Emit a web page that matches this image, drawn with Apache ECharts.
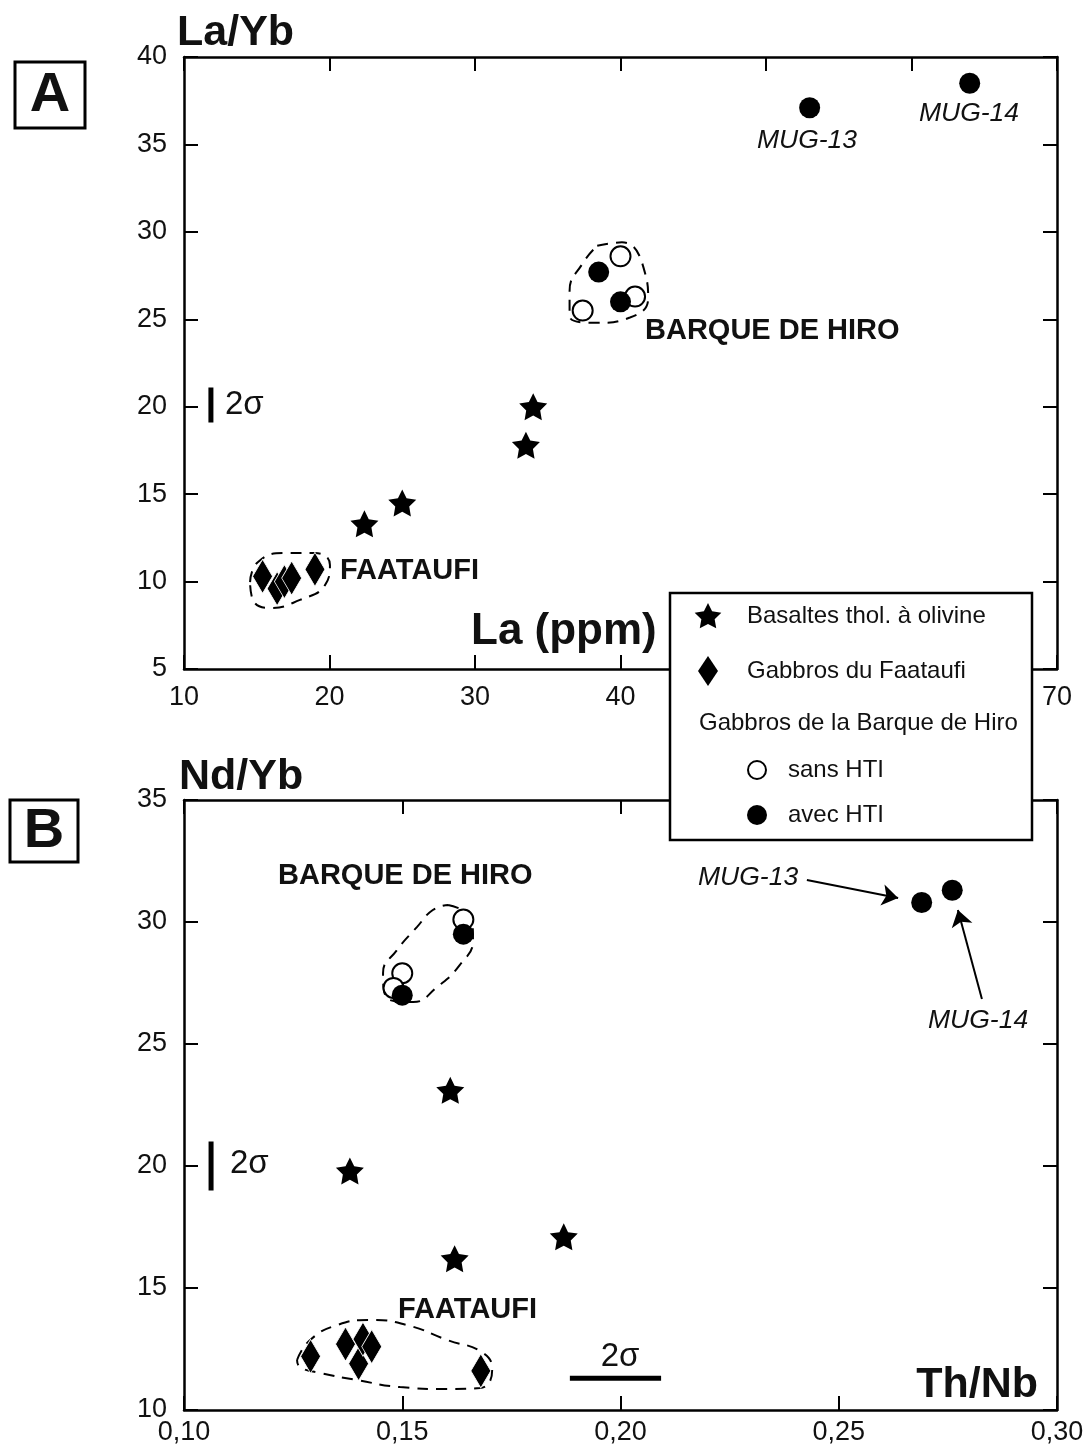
<!DOCTYPE html>
<html><head><meta charset="utf-8">
<script src="https://cdn.jsdelivr.net/npm/echarts@6/dist/echarts.min.js"></script>
<style>html,body{margin:0;padding:0;background:#fff}#c{width:1089px;height:1452px}</style>
</head><body><div id="c"></div>
<script>
// ---------- Panel A : La/Yb vs La (ppm) ----------
const starsA   = [[22.4,13.3],[25.0,14.5],[33.5,17.8],[34.0,20.0]];
const diamondsA= [[15.4,10.3],[16.4,9.6],[16.9,10.0],[17.4,10.2],[19.0,10.7]];
const openA    = [[40.0,28.6],[41.0,26.3],[37.4,25.5]];
const filledA  = [[38.5,27.7],[40.0,26.0],[53.0,37.1],[64.0,38.5]];
const outlineBarqueA = [[38.4,29.2],[40.1,29.4],[41.7,27.6],[41.9,26.2],[40.65,25.1],[38.4,24.8],[36.5,25.2],[36.5,26.6],[37.4,28.2],[38.4,29.2]];
const outlineFaataufiA = [[14.54,9.97],[15.09,11.12],[16.94,11.63],[19.0,11.63],[20.03,10.95],[19.69,9.8],[17.97,8.95],[15.91,8.49],[14.74,8.95],[14.54,9.97]];
const errA = [[11.85,19.1],[11.85,21.1]];
const xTicksA = {min:10, max:70, step:10};
const yTicksA = {min:5, max:40, step:5};

// ---------- Panel B : Nd/Yb vs Th/Nb ----------
const starsB   = [[0.161,23.1],[0.138,19.8],[0.162,16.2],[0.187,17.1]];
const diamondsB= [[0.129,12.2],[0.137,12.7],[0.140,11.9],[0.141,12.9],[0.143,12.6],[0.168,11.6]];
const openB    = [[0.164,30.1],[0.150,27.9],[0.148,27.3]];
const filledB  = [[0.164,29.5],[0.150,27.0],[0.269,30.8],[0.276,31.3]];
const outlineBarqueB = [[0.1605,30.7],[0.166,30.08],[0.1662,29.26],[0.1632,28.24],[0.158,27.34],[0.1525,26.72],[0.1472,26.8],[0.1456,27.91],[0.1488,28.85],[0.1534,29.8],[0.157,30.49],[0.1605,30.7]];
const outlineFaataufiB = [[0.1259,12.05],[0.1289,12.87],[0.1351,13.48],[0.1426,13.69],[0.1511,13.48],[0.1603,12.87],[0.1685,12.34],[0.1706,11.64],[0.1678,10.9],[0.1603,10.86],[0.1495,10.94],[0.1396,11.23],[0.1311,11.52],[0.1266,11.76],[0.1259,12.05]];
const errBv = [[0.1062,19.0],[0.1062,21.0]];
const errBh = [[0.1884,11.3],[0.2093,11.3]];
const arrowMug13 = [[0.2427,31.72],[0.2636,30.98]];
const arrowMug14 = [[0.2828,26.84],[0.2773,30.49]];
const xTicksB = {min:0.10, max:0.30, step:0.05};
const yTicksB = {min:10, max:35, step:5};

const legendItems = ['Basaltes thol. à olivine','Gabbros du Faataufi','Gabbros de la Barque de Hiro','sans HTI','avec HTI'];

const FONT = '"Liberation Sans", Arial, Helvetica, sans-serif';
const STAR = 'path://M100 0 L129.39 59.55 L195.11 69.1 L147.55 115.45 L158.78 180.9 L100 150 L41.22 180.9 L52.45 115.45 L4.89 69.1 L70.61 59.55 Z';

function axisBase(t, showLabel, fmt){
  return {
    type:'value', min:t.min, max:t.max, interval:t.step,
    axisLine:{show:true, onZero:false, lineStyle:{color:'#000', width:2.5}},
    axisTick:{show:true, inside:true, length:14, lineStyle:{color:'#000', width:2}},
    splitLine:{show:false},
    axisLabel:{show:showLabel, color:'#111', fontFamily:FONT, fontSize:26, formatter:fmt}
  };
}
const fmtB = v => v.toFixed(2).replace('.', ',');

const chart = echarts.init(document.getElementById('c'), null, {renderer:'canvas'});

function scatter(data, xi, yi, kind){
  const s = {type:'scatter', data, xAxisIndex:xi, yAxisIndex:yi, z:5, silent:true};
  if(kind==='star'){ s.symbol=STAR; s.symbolSize=[28,27]; s.itemStyle={color:'#000', opacity:1}; }
  if(kind==='diamond'){ s.symbol='diamond'; s.symbolSize=[20,34]; s.itemStyle={color:'#000', borderColor:'#fff', borderWidth:0.8, opacity:1}; }
  if(kind==='open'){ s.symbol='circle'; s.symbolSize=20; s.itemStyle={color:'#fff', borderColor:'#000', borderWidth:2, opacity:1}; }
  if(kind==='filled'){ s.symbol='circle'; s.symbolSize=21; s.itemStyle={color:'#000', opacity:1}; s.z=6; }
  return s;
}
function outline(data, xi, yi){
  return {type:'line', data, xAxisIndex:xi, yAxisIndex:yi, smooth:0.5, symbol:'none', silent:true, z:3,
    lineStyle:{color:'#000', width:2, type:[11,8]}};
}
function bar(data, xi, yi){
  return {type:'line', data, xAxisIndex:xi, yAxisIndex:yi, symbol:'none', silent:true, z:3,
    lineStyle:{color:'#000', width:5}};
}

function starPts(cx, cy, R, r){
  const p=[];
  for(let i=0;i<10;i++){
    const a = -Math.PI/2 + i*Math.PI/5;
    const rr = i%2===0 ? R : r;
    p.push([cx+rr*Math.cos(a), cy+rr*Math.sin(a)]);
  }
  return p;
}
function txt(x, y, s, size, opts){
  return {type:'text', x, y, z:50, style:Object.assign({text:s, fontFamily:FONT, fontSize:size, fill:'#111', textVerticalAlign:'middle', textAlign:'left'}, opts||{})};
}
const lab = m => ({show:true, color:'#111', fontFamily:FONT, fontSize:27, margin:m});

const option = {
  backgroundColor:'#fff',
  animation:false,
  grid:[
    {left:184, top:57, width:873, height:612},
    {left:184, top:800, width:873, height:610}
  ],
  xAxis:[
    Object.assign(axisBase(xTicksA, true), {gridIndex:0, position:'bottom', axisLabel:lab(15)}),
    Object.assign(axisBase(xTicksA, false), {gridIndex:0, position:'top'}),
    Object.assign(axisBase(xTicksB, true, fmtB), {gridIndex:1, position:'bottom', axisLabel:Object.assign(lab(9), {formatter:fmtB})}),
    Object.assign(axisBase(xTicksB, false), {gridIndex:1, position:'top'})
  ],
  yAxis:[
    Object.assign(axisBase(yTicksA, true), {gridIndex:0, position:'left', axisLabel:lab(17)}),
    Object.assign(axisBase(yTicksA, false), {gridIndex:0, position:'right'}),
    Object.assign(axisBase(yTicksB, true), {gridIndex:1, position:'left', axisLabel:lab(17)}),
    Object.assign(axisBase(yTicksB, false), {gridIndex:1, position:'right'})
  ],
  series:[
    outline(outlineBarqueA,0,0), outline(outlineFaataufiA,0,0), bar(errA,0,0),
    scatter(starsA,0,0,'star'), scatter(diamondsA,0,0,'diamond'), scatter(openA,0,0,'open'), scatter(filledA,0,0,'filled'),
    outline(outlineBarqueB,2,2), outline(outlineFaataufiB,2,2), bar(errBv,2,2), bar(errBh,2,2),
    scatter(starsB,2,2,'star'), scatter(diamondsB,2,2,'diamond'), scatter(openB,2,2,'open'), scatter(filledB,2,2,'filled'),
    {type:'lines', coordinateSystem:'cartesian2d', xAxisIndex:2, yAxisIndex:2, silent:true, z:4,
     symbol:['none','arrow'], symbolSize:[0,16],
     lineStyle:{color:'#000', width:2, opacity:1},
     data:[{coords:arrowMug13},{coords:arrowMug14}]}
  ],
  graphic:[
    {type:'rect', z:50, shape:{x:15, y:62, width:70, height:66}, style:{fill:'#fff', stroke:'#000', lineWidth:3}},
    txt(50, 96, 'A', 56, {fontWeight:'bold', textAlign:'center'}),
    {type:'rect', z:50, shape:{x:10, y:800, width:68, height:62}, style:{fill:'#fff', stroke:'#000', lineWidth:3}},
    txt(44, 832, 'B', 56, {fontWeight:'bold', textAlign:'center'}),
    txt(177, 33, 'La/Yb', 43, {fontWeight:'bold'}),
    txt(471, 632, 'La (ppm)', 44, {fontWeight:'bold'}),
    txt(179, 777, 'Nd/Yb', 43, {fontWeight:'bold'}),
    txt(1038, 1385, 'Th/Nb', 43, {fontWeight:'bold', textAlign:'right'}),
    txt(645, 331, 'BARQUE DE HIRO', 29, {fontWeight:'bold'}),
    txt(340, 571, 'FAATAUFI', 29, {fontWeight:'bold'}),
    txt(278, 876, 'BARQUE DE HIRO', 29, {fontWeight:'bold'}),
    txt(398, 1310, 'FAATAUFI', 29, {fontWeight:'bold'}),
    txt(807, 141, 'MUG-13', 26.5, {fontStyle:'italic', textAlign:'center'}),
    txt(969, 114, 'MUG-14', 26.5, {fontStyle:'italic', textAlign:'center'}),
    txt(698, 878, 'MUG-13', 26.5, {fontStyle:'italic'}),
    txt(928, 1021, 'MUG-14', 26.5, {fontStyle:'italic'}),
    txt(225, 405, '2σ', 33),
    txt(230, 1164, '2σ', 33),
    txt(620, 1357, '2σ', 33, {textAlign:'center'}),
    {type:'rect', z:60, shape:{x:670, y:593, width:362, height:247}, style:{fill:'#fff', stroke:'#000', lineWidth:2.5}},
    {type:'polygon', z:61, shape:{points:starPts(708, 617, 14, 7)}, style:{fill:'#000'}},
    {type:'polygon', z:61, shape:{points:[[708,656],[718,671],[708,686],[698,671]]}, style:{fill:'#000'}},
    {type:'circle', z:61, shape:{cx:757, cy:770, r:9}, style:{fill:'#fff', stroke:'#000', lineWidth:2}},
    {type:'circle', z:61, shape:{cx:757, cy:815, r:10}, style:{fill:'#000'}},
    Object.assign(txt(747, 616, legendItems[0], 24), {z:62}),
    Object.assign(txt(747, 671, legendItems[1], 24), {z:62}),
    Object.assign(txt(699, 723, legendItems[2], 24), {z:62}),
    Object.assign(txt(788, 770, legendItems[3], 24), {z:62}),
    Object.assign(txt(788, 815, legendItems[4], 24), {z:62})
  ]
};
chart.setOption(option);
</script>
</body></html>
